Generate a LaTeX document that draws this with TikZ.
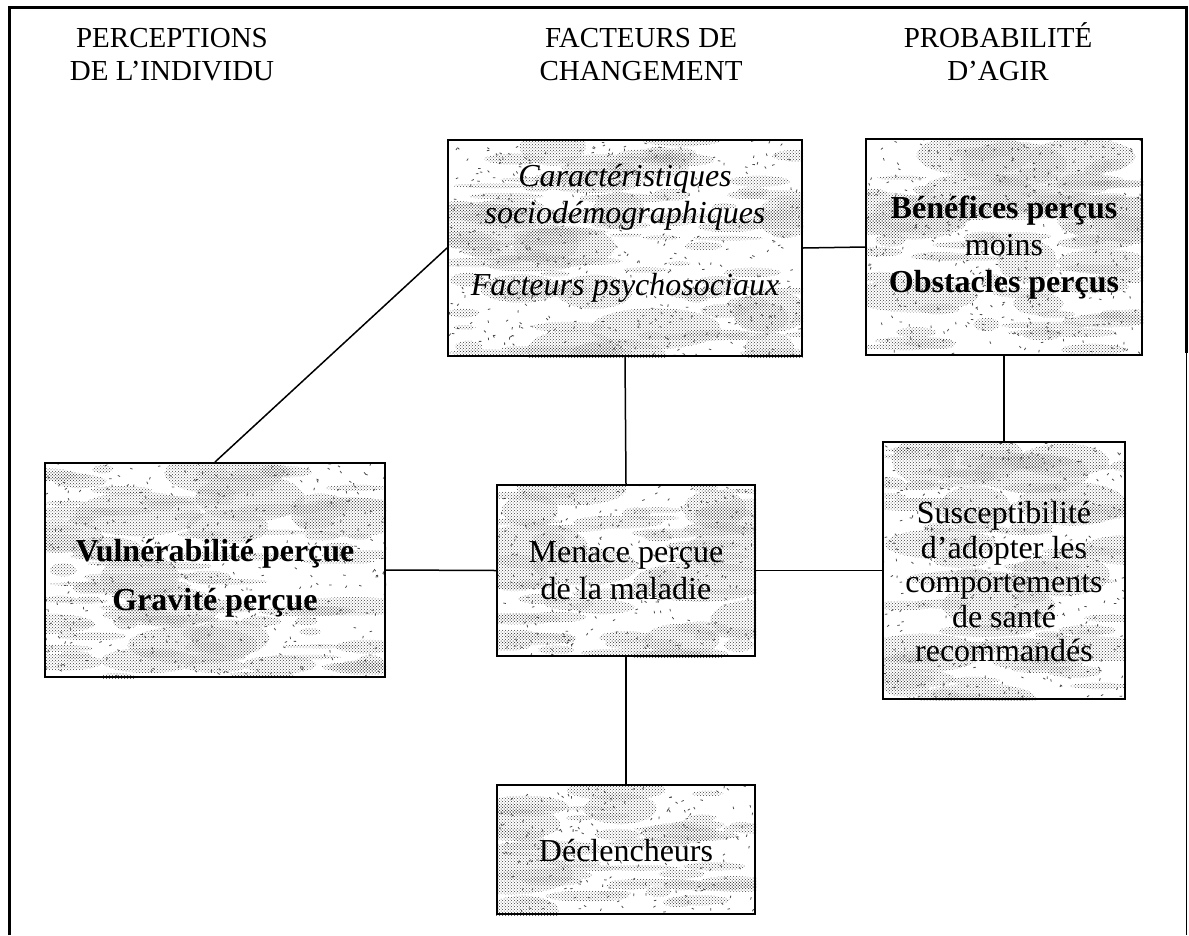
\documentclass[tikz,border=0pt]{standalone}
\usepackage{fontspec}
\setmainfont{Liberation Serif}
\usetikzlibrary{backgrounds,patterns}

% mottled halftone paper texture inside a named box
\newcommand{\mottlebox}[1]{%
  \path (#1.south west); \pgfgetlastxy{\mxa}{\mya}
  \path (#1.north east); \pgfgetlastxy{\mxb}{\myb}
  \pgfmathsetmacro{\nbig}{int((\mxb-\mxa)/10*(\myb-\mya)/10/40)}
  \pgfmathsetmacro{\nblob}{int((\mxb-\mxa)/10*(\myb-\mya)/10/9)}
  \pgfmathsetmacro{\nspeck}{int((\mxb-\mxa)/10*(\myb-\mya)/10/2)}
  \begin{scope}
    \clip (#1.south west) rectangle (#1.north east);
    % broad darker patches
    \foreach \k in {1,...,\nbig} {
      \pgfmathsetmacro{\px}{\mxa+rnd*(\mxb-\mxa)}
      \pgfmathsetmacro{\py}{\mya+rnd*(\myb-\mya)}
      \pgfmathsetmacro{\pw}{25+rnd*45}
      \pgfmathsetmacro{\ph}{8+rnd*16}
      \fill[mottle] (\px pt,\py pt) ellipse ({\pw pt} and {\ph pt});
    }
    % thin horizontal streaks
    \foreach \k in {1,...,\nblob} {
      \pgfmathsetmacro{\px}{\mxa+rnd*(\mxb-\mxa)}
      \pgfmathsetmacro{\py}{\mya+rnd*(\myb-\mya)}
      \pgfmathsetmacro{\pw}{10+rnd*38}
      \pgfmathsetmacro{\ph}{2+rnd*5}
      \fill[mottle] (\px pt,\py pt) ellipse ({\pw pt} and {\ph pt});
    }
    % scattered specks
    \foreach \k in {1,...,\nspeck} {
      \pgfmathsetmacro{\px}{\mxa+rnd*(\mxb-\mxa)}
      \pgfmathsetmacro{\py}{\mya+rnd*(\myb-\mya)}
      \pgfmathsetmacro{\pa}{rnd*180}
      \draw[speck] (\px pt,\py pt) -- ++(\pa:2.5pt);
    }
  \end{scope}}

\tikzset{
  box/.style={draw=black, line width=2pt, inner sep=0pt},
  boxtext/.style={align=center, inner sep=0pt, font=\fontsize{32}{37}\selectfont},
  title/.style={align=center, inner sep=0pt, font=\fontsize{29}{33}\selectfont},
  link/.style={draw=black, line width=1.5pt},
  frame/.style={draw=black, line width=3pt},
  mottle/.style={pattern=crosshatch dots, pattern color=black!75},
  speck/.style={draw=black!70, line width=0.8pt}
}

\begin{document}
\begin{tikzpicture}[x=1pt, y=-1pt]
\useasboundingbox (0,0) rectangle (1189,935);

% outer frame (open at the bottom)
\draw[frame] (9,935) -- (9,7) -- (1186,7) -- (1186,353);
\draw[black, line width=0.8pt] (1186,353) -- (1186,935);

% column headings (base anchor = baseline of the last line)
\node[title, anchor=base] (hperc) at (172,80) {PERCEPTIONS\\DE L’INDIVIDU};
\node[title, anchor=base] (hfact) at (641,80) {FACTEURS DE\\CHANGEMENT};
\node[title, anchor=base] (hprob) at (998,80) {PROBABILITÉ\\D’AGIR};

% boxes
\node[box, minimum width=354pt, minimum height=216pt] (cara) at (625,248) {};
\node[box, minimum width=276pt, minimum height=216pt] (bene) at (1004,247) {};
\node[box, minimum width=340pt, minimum height=214pt] (vuln) at (215,570) {};
\node[box, minimum width=258pt, minimum height=171pt] (mena) at (626,570.5) {};
\node[box, minimum width=258pt, minimum height=129pt] (decl) at (626,849.5) {};
\node[box, minimum width=242pt, minimum height=257pt] (susc) at (1004,570.5) {};

% paper texture behind the box texts
\begin{scope}[on background layer]
  \pgfmathsetseed{4242}
  \mottlebox{cara}
  \mottlebox{bene}
  \mottlebox{vuln}
  \mottlebox{mena}
  \mottlebox{decl}
  \mottlebox{susc}
\end{scope}

% box texts
\node[boxtext, font=\fontsize{32}{37}\selectfont\itshape] (caratxt) at (625,233)
  {Caractéristiques\\sociodémographiques\\[35pt]Facteurs psychosociaux};
\node[boxtext] (benetxt) at (1004,248)
  {\textbf{Bénéfices perçus}\\moins\\\textbf{Obstacles perçus}};
\node[boxtext, font=\fontsize{32}{37}\selectfont\bfseries] (vulntxt) at (215,578)
  {Vulnérabilité perçue\\[12pt]Gravité perçue};
\node[boxtext] (menatxt) at (626,571) {Menace perçue\\de la maladie};
\node[boxtext] (decltxt) at (626,851) {Déclencheurs};
\node[boxtext, font=\fontsize{32}{34.5}\selectfont] (susctxt) at (1004,582)
  {Susceptibilité\\d’adopter les\\comportements\\de santé\\recommandés};

% connectors
\draw[link] (vuln.north) -- (cara.west);
\draw[link] (cara.east) -- (bene.west);
\draw[link] (cara.south) -- (mena.north);
\draw[link] (bene.south) -- (susc.north);
\draw[link] (vuln.east) -- (mena.west);
\draw[link] (mena.east) -- (susc.west);
\draw[link] (mena.south) -- (decl.north);
\end{tikzpicture}
\end{document}
